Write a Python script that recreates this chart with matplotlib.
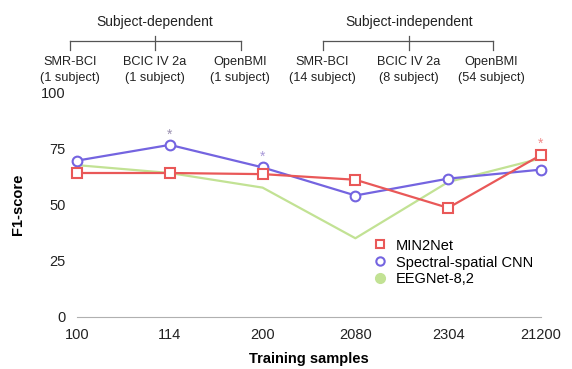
import matplotlib.pyplot as plt
from matplotlib.lines import Line2D

plt.rcParams['font.family'] = ['Liberation Sans', 'DejaVu Sans']

samples = ['100', '114', '200', '2080', '2304', '21200']
min2net = [64, 64, 63.5, 61, 48.5, 72]
ss_cnn = [69.5, 76.5, 66.5, 54, 61.5, 65.5]
eegnet = [67.5, 64, 57.5, 35, 60, 70.5]

# significance stars: (index, value, colour)
stars = [(1, 81, '#9a90b0'), (2, 71, '#a898d8'), (5, 77, '#f08a8a')]

datasets = ['SMR-BCI\n(1 subject)', 'BCIC IV 2a\n(1 subject)', 'OpenBMI\n(1 subject)',
            'SMR-BCI\n(14 subject)', 'BCIC IV 2a\n(8 subject)', 'OpenBMI\n(54 subject)']
groups = ['Subject-dependent', 'Subject-independent']

red = '#e95858'
blue = '#7464e0'
green = '#c2e294'

fig = plt.figure(figsize=(5.72, 3.69), dpi=100)
ax = fig.add_axes([77 / 572, 52 / 369, 464 / 572, 225 / 369])
x = list(range(len(samples)))

ax.plot(x, eegnet, color=green, lw=1.6, clip_on=False, zorder=2)
ax.plot(x, ss_cnn, color=blue, lw=1.6, marker='o', ms=7, mfc='white', mec=blue, mew=1.5,
        clip_on=False, zorder=3)
ax.plot(x, min2net, color=red, lw=1.6, marker='s', ms=7, mfc='white', mec=red, mew=1.5,
        clip_on=False, zorder=4)

for i, v, c in stars:
    ax.text(i, v, '*', color=c, ha='center', va='center', fontsize=10)

ax.set_xlim(0, 5)
ax.set_ylim(0, 100)
ax.set_xticks(x)
ax.set_xticklabels(samples)
ax.set_yticks([0, 25, 50, 75, 100])
for s in ['top', 'right', 'left']:
    ax.spines[s].set_visible(False)
ax.spines['bottom'].set_color('#b0b0b0')
ax.tick_params(axis='both', length=0, labelsize=10.5, colors='#222222')
ax.tick_params(axis='x', pad=8)
ax.tick_params(axis='y', pad=8)
ax.set_xlabel('Training samples', fontsize=10.5, fontweight='bold', labelpad=7)
ax.set_ylabel('F1-score', fontsize=10.5, fontweight='bold', labelpad=12)

handles = [
    Line2D([], [], ls='none', marker='s', ms=6, mfc='white', mec=red, mew=1.5),
    Line2D([], [], ls='none', marker='o', ms=6, mfc='white', mec=blue, mew=1.5),
    Line2D([], [], ls='none', marker='o', ms=7, mfc=green, mec=green),
]
labels = ['MIN2Net', 'Spectral-spatial CNN', 'EEGNet-8,2']
ax.legend(handles, labels, loc='lower left', bbox_to_anchor=(0.63, 0.11),
          frameon=False, fontsize=10.5, handlelength=0.6, handletextpad=0.8,
          labelspacing=0.2, borderaxespad=0)

# header brackets above the plot
W, H = 572, 369
centres = [70, 155, 240, 322, 409, 491]
for cx, name in zip(centres, datasets):
    fig.text(cx / W, 1 - 70 / H, name, ha='center', va='center', fontsize=9.2,
             linespacing=1.35, color='#222222')
for (l, m, r), g in zip([(70, 155, 241), (323, 409, 493)], groups):
    fig.text(m / W, 1 - 22 / H, g, ha='center', va='center', fontsize=10, color='#222222')
    yb, yt, yl = 1 - 41 / H, 1 - 36 / H, 1 - 50 / H
    lc = '#555555'
    fig.add_artist(Line2D([l / W, r / W], [yb, yb], color=lc, lw=0.9))
    fig.add_artist(Line2D([l / W, l / W], [yb, yl], color=lc, lw=0.9))
    fig.add_artist(Line2D([r / W, r / W], [yb, yl], color=lc, lw=0.9))
    fig.add_artist(Line2D([m / W, m / W], [yt, yl], color=lc, lw=0.9))

fig.savefig('out.png', dpi=100)
